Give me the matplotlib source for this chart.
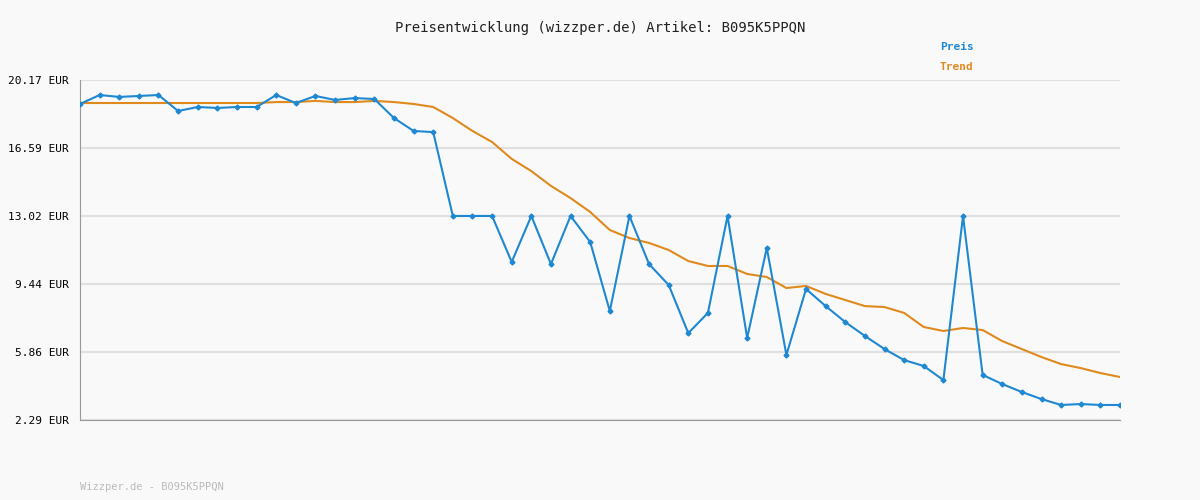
import matplotlib
matplotlib.use("Agg")
import matplotlib.pyplot as plt

preis = [18.91, 19.38, 19.28, 19.33, 19.38, 18.54, 18.75, 18.70, 18.75, 18.75,
         19.38, 18.96, 19.33, 19.12, 19.22, 19.17, 18.17, 17.49, 17.43, 13.02,
         13.02, 13.02, 10.60, 13.02, 10.49, 13.02, 11.65, 8.02, 13.02, 10.49,
         9.39, 6.86, 7.92, 13.02, 6.60, 11.34, 5.71, 9.18, 8.28, 7.44,
         6.71, 6.02, 5.44, 5.13, 4.39, 13.02, 4.66, 4.18, 3.76, 3.39,
         3.08, 3.13, 3.08, 3.08]
trend = [18.96, 18.96, 18.96, 18.96, 18.96, 18.96, 18.96, 18.96, 18.96, 18.96,
         19.01, 19.01, 19.07, 19.01, 19.01, 19.07, 19.01, 18.91, 18.75, 18.17,
         17.49, 16.91, 16.02, 15.38, 14.60, 13.96, 13.23, 12.28, 11.86, 11.60,
         11.23, 10.65, 10.39, 10.39, 9.97, 9.81, 9.23, 9.34, 8.92, 8.60,
         8.28, 8.23, 7.92, 7.18, 6.97, 7.13, 7.02, 6.44, 6.02, 5.60,
         5.23, 5.02, 4.76, 4.55]
yticks = [2.29, 5.86, 9.44, 13.02, 16.59, 20.17]

blue = "#1e88d2"
orange = "#e08a1e"
plt.rcParams["font.family"] = "DejaVu Sans Mono"

fig = plt.figure(figsize=(12, 5), dpi=100, facecolor="#f9f9f9")
ax = fig.add_axes([80 / 1200, 0.16, 1040 / 1200, 0.68], facecolor="#f9f9f9")
x = range(len(preis))
ax.plot(x, trend, color=orange, lw=1.5, zorder=2)
ax.plot(x, preis, color=blue, lw=1.5, marker="D", ms=2.5, zorder=3)

ax.set_xlim(0, len(preis) - 1)
ax.set_ylim(2.29, 20.17)
ax.set_yticks(yticks)
ax.set_yticklabels([f"{v:.2f} EUR" for v in yticks], fontsize=8)
ax.set_xticks([])
ax.tick_params(axis="y", length=0, pad=8)
ax.grid(axis="y", color="#e0e0e0", lw=1.5)
ax.set_axisbelow(True)
for s in ["top", "right"]:
    ax.spines[s].set_visible(False)
ax.spines["left"].set_color("#999999")
ax.spines["bottom"].set_color("#999999")

fig.text(0.5, 1 - 28 / 500, "Preisentwicklung (wizzper.de) Artikel: B095K5PPQN",
         ha="center", va="center", fontsize=10, color="#222222")
fig.text(940 / 1200, 1 - 47 / 500, "Preis", color=blue, fontsize=8, fontweight="bold", va="center")
fig.text(940 / 1200, 1 - 67 / 500, "Trend", color=orange, fontsize=8, fontweight="bold", va="center")
fig.text(80 / 1200, 1 - 487 / 500, "Wizzper.de - B095K5PPQN", color="#bbbbbb", fontsize=7.5, va="center")

fig.savefig("out.png", dpi=100, facecolor=fig.get_facecolor())
